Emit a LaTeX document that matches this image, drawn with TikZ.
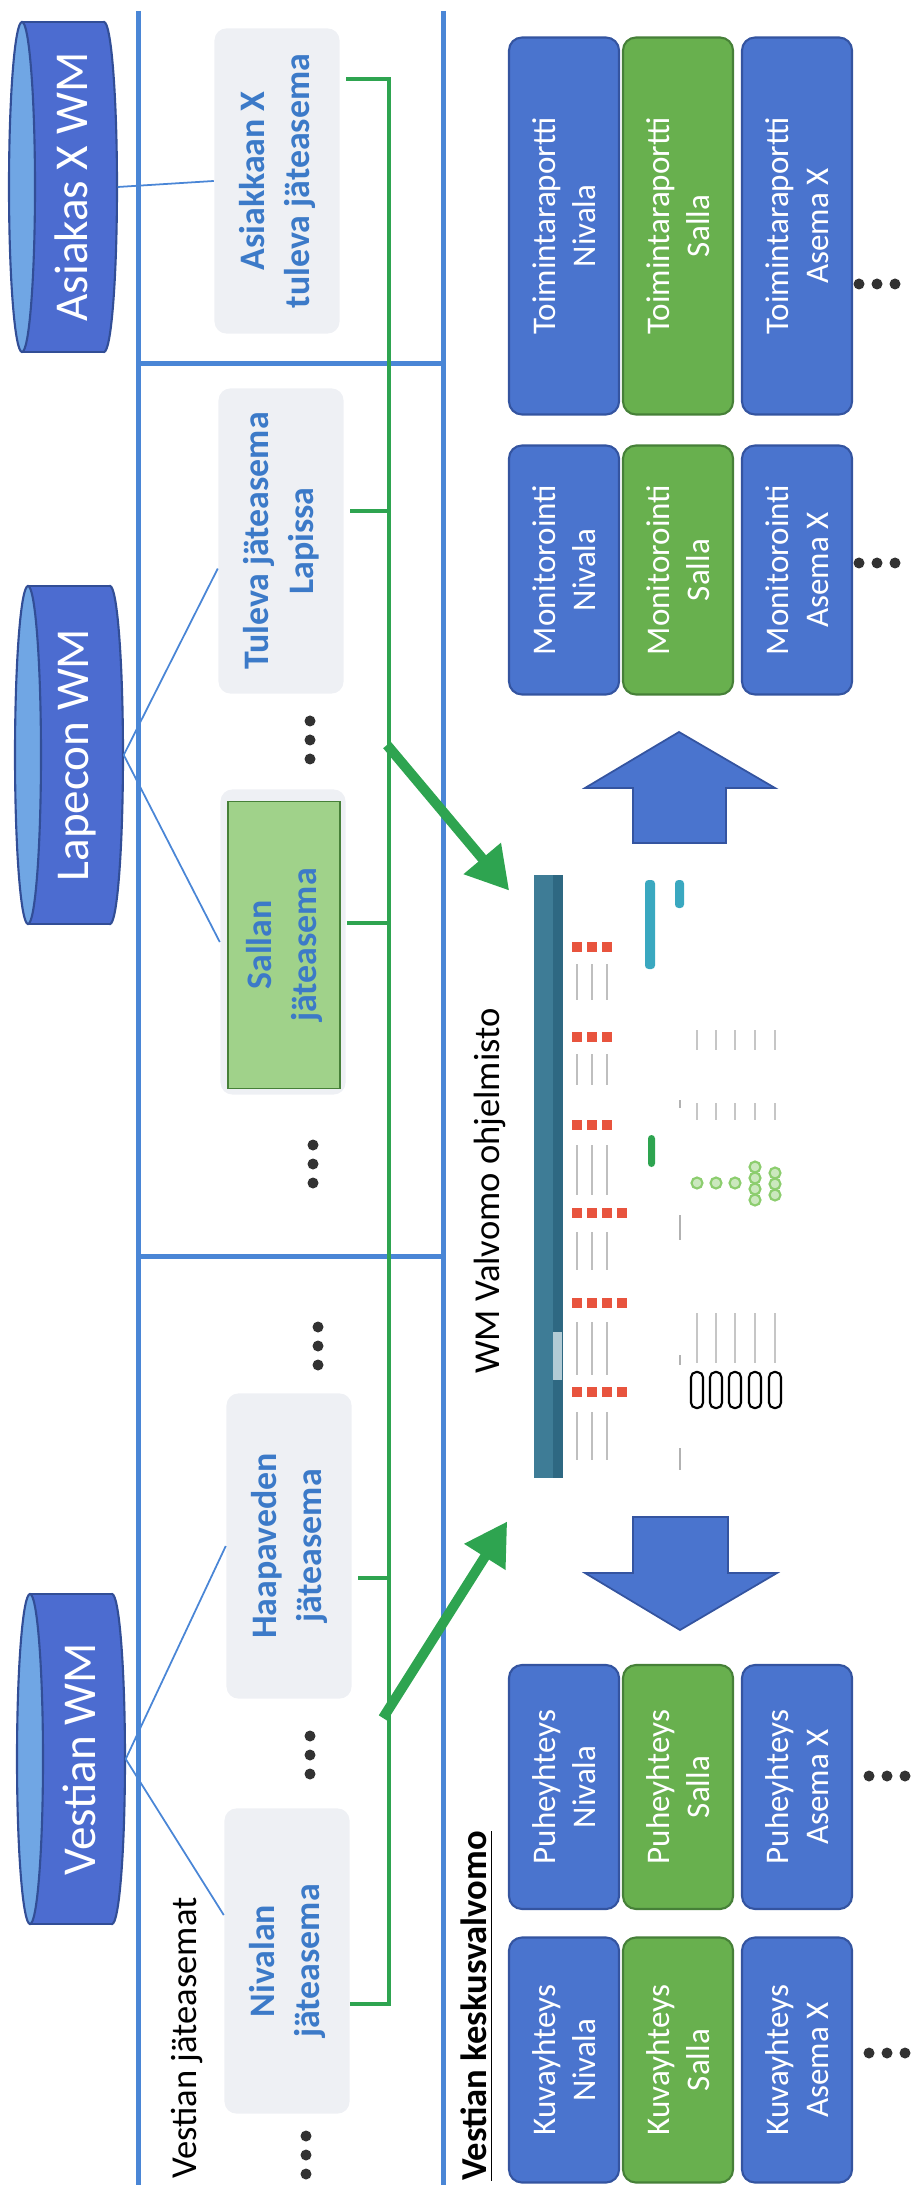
\documentclass[tikz,border=0pt]{standalone}
\usepackage{fontspec}
\setmainfont{Carlito}
\usepackage{tikz}
\usetikzlibrary{positioning, arrows.meta, calc}

\definecolor{wmblue}{RGB}{74,116,206}
\definecolor{wmblueedge}{RGB}{52,84,160}
\definecolor{wmgreen}{RGB}{104,176,78}
\definecolor{wmgreenedge}{RGB}{70,128,56}
\definecolor{dbbody}{RGB}{76,108,208}
\definecolor{dbcap}{RGB}{112,166,228}
\definecolor{dbedge}{RGB}{50,78,150}
\definecolor{frameblue}{RGB}{74,134,214}
\definecolor{busgreen}{RGB}{46,164,80}
\definecolor{stationbg}{RGB}{238,240,244}
\definecolor{stationtext}{RGB}{60,122,200}
\definecolor{sallafill}{RGB}{160,210,138}
\definecolor{dotgray}{RGB}{50,50,50}
\definecolor{scrbar}{RGB}{62,124,150}
\definecolor{scrbardark}{RGB}{46,104,130}
\definecolor{scrred}{RGB}{232,84,62}
\definecolor{scrteal}{RGB}{58,168,192}
\definecolor{scrgreen}{RGB}{140,205,110}

\tikzset{
    tile/.style={rotate=90, rounded corners=0.13cm, draw, line width=0.6pt,
        minimum height=1.1cm, align=center, text=white, inner sep=0pt,
        font=\fontsize{9.4}{11.2}\selectfont},
    bluetile/.style={tile, fill=wmblue, draw=wmblueedge},
    greentile/.style={tile, fill=wmgreen, draw=wmgreenedge},
    station/.style={rotate=90, rounded corners=0.12cm, fill=stationbg,
        minimum width=3.05cm, minimum height=1.25cm, align=center,
        text=stationtext, inner sep=0pt,
        font=\fontsize{10.2}{12.8}\selectfont\bfseries},
    headtext/.style={rotate=90, inner sep=0pt, font=\fontsize{10.4}{12.5}\selectfont},
    frameline/.style={frameblue, line width=0.05cm},
    bus/.style={busgreen, line width=0.04cm, shorten <=0.06cm},
    feed/.style={busgreen, line width=0.1cm, -{Triangle[length=0.42cm, width=0.46cm]}},
    thinlink/.style={frameblue, line width=0.5pt}
}

% database cylinder lying on its side: name, centre x, centre y, length, text
\newcommand\wmdb[5]{%
    \filldraw[fill=dbbody, draw=dbedge, line width=0.6pt] (#2+41,#3) ellipse [x radius=13, y radius=#4/2];
    \fill[dbbody] (#2-41,#3-#4/2) rectangle (#2+41,#3+#4/2);
    \draw[dbedge, line width=0.6pt] (#2-41,#3-#4/2) -- (#2+41,#3-#4/2);
    \draw[dbedge, line width=0.6pt] (#2-41,#3+#4/2) -- (#2+41,#3+#4/2);
    \filldraw[fill=dbcap, draw=dbedge, line width=0.6pt] (#2-41,#3) ellipse [x radius=13, y radius=#4/2];
    \node[rotate=90, minimum width=#4*0.01cm, minimum height=0.92cm, inner sep=0pt,
        text=white, font=\fontsize{13.4}{16}\selectfont] (#1) at (#2+8,#3) {#5};
}

\begin{document}
\begin{tikzpicture}[x=0.01cm, y=-0.01cm]
    \useasboundingbox (0,0) rectangle (921,2189);

    % frame of the station columns
    \draw[frameline] (138,11) -- (138,2185);
    \draw[frameline] (443,11) -- (443,2185);
    \draw[frameline] (138,364) -- (443,364);
    \draw[frameline] (138,1256) -- (443,1256);

    % customer databases
    \wmdb{asxdb}{63}{187}{330}{Asiakas X WM}
    \wmdb{lapdb}{69}{755}{338}{Lapecon WM}
    \wmdb{vesdb}{71}{1759}{330}{Vestian WM}

    % stations
    \node[station] (asx) at (277,181) {Asiakkaan X\\tuleva jäteasema};
    \node[station] (tul) at (281,541) {Tuleva jäteasema\\Lapissa};
    \node[station] (salhalo) at (283,942) {};
    \node[station, fill=sallafill, draw=wmgreenedge, line width=0.5pt, rounded corners=0pt,
        minimum width=2.87cm, minimum height=1.12cm] (sal) at (284,945) {Sallan\\jäteasema};
    \node[station] (hpv) at (289,1546) {Haapaveden\\jäteasema};
    \node[station] (niv) at (287,1961) {Nivalan\\jäteasema};

    \draw[thinlink] (asxdb.south) -- (asx.north);
    \draw[thinlink] (lapdb.south) -- ($(tul.north)!0.18!(tul.north west)$);
    \draw[thinlink] (lapdb.south) -- (salhalo.north);
    \draw[thinlink] (vesdb.south) -- (hpv.north);
    \draw[thinlink] (vesdb.south) -- ($(niv.north)!0.3!(niv.north east)$);

    \node[headtext] (vjt) at (187,2038) {Vestian jäteasemat};

    % data bus to the monitoring software
    \coordinate (b-asx) at (389,79);
    \coordinate (b-tul) at (389,511);
    \coordinate (b-sal) at (389,923);
    \coordinate (b-hpv) at (389,1578);
    \coordinate (b-niv) at (389,2004);
    \draw[bus] (asx.south |- b-asx) -- (b-asx) -- (b-niv) -- (niv.south |- b-niv);
    \foreach \st in {tul, sal, hpv}
    {
        \draw[bus] (\st.south |- b-\st) -- (b-\st);
    }

    % screenshot of the monitoring software
    \node[minimum width=2.56cm, minimum height=6.03cm, inner sep=0pt] (scr) at (662,1176) {};
    \node[headtext] (wmv) at (490,1191) {WM Valvomo ohjelmisto};
    \fill[scrbar] (534,875) rectangle (563,1478);
    \fill[scrbardark] (553,875) rectangle (563,1478);
    \fill[scrbar!40] (553,1332) rectangle (562,1380);
    \foreach \cy in {947,1037,1125}
    {
        \foreach \cx in {577,592,607}
        {
            \fill[scrred] (\cx-5,\cy-5) rectangle (\cx+5,\cy+5);
        }
    }
    \foreach \cy in {1213,1303,1392}
    {
        \foreach \cx in {577,592,607,622}
        {
            \fill[scrred] (\cx-5,\cy-5) rectangle (\cx+5,\cy+5);
        }
    }
    \foreach \ya/\yb in {964/1000, 1054/1085, 1145/1195, 1232/1270, 1322/1375, 1412/1460}
    {
        \foreach \cx in {577,592,607}
        {
            \draw[gray!50, line width=0.8pt] (\cx,\ya) -- (\cx,\yb);
        }
    }
    \fill[scrteal, rounded corners=1pt] (645,880) rectangle (655,969);
    \fill[scrteal, rounded corners=1pt] (675,880) rectangle (684,908);
    \fill[busgreen, rounded corners=1pt] (648,1135) rectangle (655,1167);
    \foreach \cx in {697,716,735,755,775}
    {
        \draw[gray!45, line width=0.8pt] (\cx,1030) -- (\cx,1050);
        \draw[gray!45, line width=0.8pt] (\cx,1103) -- (\cx,1120);
        \draw[gray!45, line width=0.8pt] (\cx,1313) -- (\cx,1363);
        \draw[black, line width=0.6pt, rounded corners=1.5pt] (\cx-6,1372) rectangle (\cx+6,1408);
    }
    \foreach \ya/\yb in {1100/1108, 1215/1240, 1355/1365, 1448/1470}
    {
        \draw[gray!60, line width=0.8pt] (680,\ya) -- (680,\yb);
    }
    \foreach \cx/\cy in {697/1183, 716/1183, 735/1183, 755/1167, 755/1178, 755/1189, 755/1200,
        775/1173, 775/1184, 775/1195}
    {
        \filldraw[draw=scrgreen, fill=scrgreen!45, line width=0.6pt] (\cx,\cy) circle (5.5);
    }

    % feeds from the bus
    \coordinate (g-up) at (387,745);
    \coordinate (g-lo) at (383,1718);
    \draw[feed] (g-up) -- ($(scr.north west)+(-24,17)$);
    \draw[feed] (g-lo) -- ($(scr.south west)+(-26,43)$);

    % big arrows
    \filldraw[fill=wmblue, draw=wmblueedge, line width=0.5pt]
        (633,843) -- (633,788) -- (585,788) -- (679,732) -- (775,788) -- (726,788) -- (726,843) -- cycle;
    \filldraw[fill=wmblue, draw=wmblueedge, line width=0.5pt]
        (633,1517) -- (728,1517) -- (728,1573) -- (777,1573) -- (680,1630) -- (585,1573) -- (633,1573) -- cycle;

    % output tiles
    \foreach \nm/\ttl/\cy/\lng in {rap/Toimintaraportti/226/377, mon/Monitorointi/570/249,
        puh/Puheyhteys/1787/244, kuv/Kuvayhteys/2060/245}
    {
        \foreach \col/\place/\cx/\kind in {n/Nivala/564/bluetile, s/Salla/678/greentile,
            x/Asema X/797/bluetile}
        {
            \node[\kind, minimum width=\lng*0.01cm] (\nm-\col) at (\cx,\cy) {\ttl\\\place};
        }
    }

    \node[headtext, font=\fontsize{10.4}{12.5}\selectfont\bfseries] (vkv) at (477,2006)
        {\underline{Vestian keskusvalvomo}};

    % dots
    \foreach \cx/\cy in {310/740, 313/1164, 318/1346, 310/1755, 306/2155}
    {
        \foreach \k in {-1,0,1}
        {
            \fill[dotgray] (\cx,\cy+19*\k) circle (5.5);
        }
    }
    \foreach \cx/\cy in {877/284, 877/563, 887/1776, 887/2053}
    {
        \foreach \k in {-1,0,1}
        {
            \fill[dotgray] (\cx+18*\k,\cy) circle (5.5);
        }
    }
\end{tikzpicture}
\end{document}
